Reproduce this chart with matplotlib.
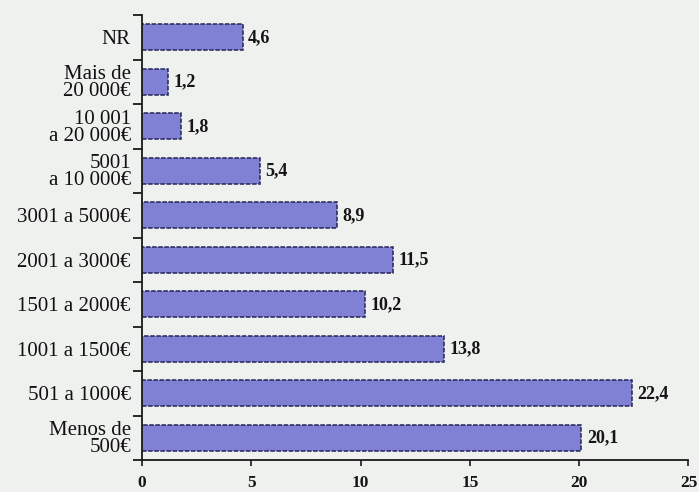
import matplotlib.pyplot as plt
import numpy as np

categories = ["Menos de\n500€", "501 a 1000€", "1001 a 1500€", "1501 a 2000€",
              "2001 a 3000€", "3001 a 5000€", "5001\na 10 000€",
              "10 001\na 20 000€", "Mais de\n20 000€", "NR"]
values = [20.1, 22.4, 13.8, 10.2, 11.5, 8.9, 5.4, 1.8, 1.2, 4.6]
value_labels = ["20,1", "22,4", "13,8", "10,2", "11,5", "8,9", "5,4", "1,8", "1,2", "4,6"]
x_ticks = [0, 5, 10, 15, 20, 25]

plt.rcParams['font.family'] = ['Liberation Serif', 'DejaVu Serif']

bg = "#eef1ee"
fig = plt.figure(figsize=(6.99, 4.92), dpi=100, facecolor=bg)
ax = fig.add_axes([0.2031, 0.065, 0.7818, 0.9045])
ax.set_facecolor(bg)

y = np.arange(len(categories))
ax.barh(y, values, height=0.58, color="#8080d4", edgecolor="#25255a",
        linewidth=1.1, linestyle=(0, (3, 1)))

for yi, v, lab in zip(y, values, value_labels):
    ax.text(v + 0.25, yi, lab, va="center", ha="left", fontsize=13,
            fontweight="bold", color="#151515")

ax.set_xlim(0, 25)
ax.set_ylim(-0.5, len(categories) - 0.5)

ax.set_yticks(y)
ax.set_yticklabels(categories, fontsize=15, color="#111111", linespacing=0.85)
ax.set_yticks(np.arange(-0.5, len(categories), 1), minor=True)
ax.tick_params(axis="y", which="major", length=0, pad=8)
ax.tick_params(axis="y", which="minor", length=6.5, width=1.3, color="#1a1a1a")

ax.set_xticks(x_ticks)
ax.set_xticklabels([str(t) for t in x_ticks], fontsize=12.5, fontweight="bold",
                   color="#151515")
ax.tick_params(axis="x", length=4, width=1.2, pad=7, color="#1a1a1a")

for s in ["top", "right"]:
    ax.spines[s].set_visible(False)
for s in ["left", "bottom"]:
    ax.spines[s].set_linewidth(1.3)
    ax.spines[s].set_color("#1a1a1a")
ax.spines["bottom"].set_bounds(0, 25)

fig.savefig("out.png", dpi=100, facecolor=bg)
